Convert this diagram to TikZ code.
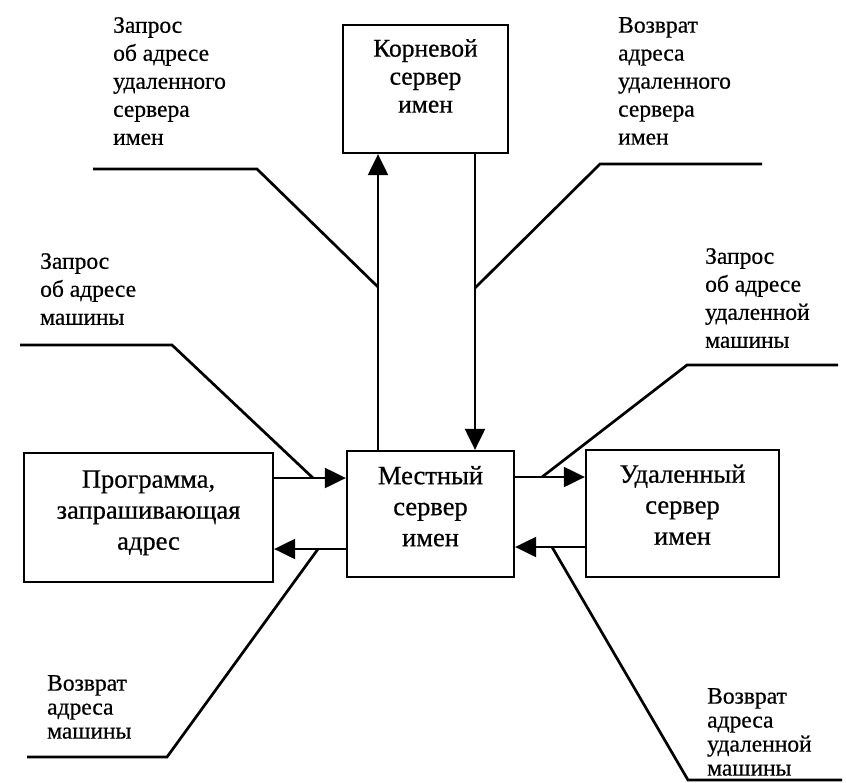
\documentclass[tikz,border=0pt]{standalone}
\usepackage{fontspec}
\setmainfont[FakeBold=0.6]{Liberation Serif}
\usetikzlibrary{arrows.meta}
\begin{document}
\begin{tikzpicture}[x=1pt,y=-1pt,
  box/.style={draw, line width=2.3pt, inner sep=0pt, align=center},
  bigtext/.style={font=\fontsize{26.5}{31}\selectfont},
  arr/.style={line width=2.2pt, -{Triangle[length=21pt,width=20pt]}},
  lead/.style={line width=2.7pt},
  lbl/.style={anchor=north west, inner sep=0pt, align=left, font=\fontsize{23.5}{28}\selectfont},
  lblb/.style={lbl, font=\fontsize{23.5}{24}\selectfont}]
\useasboundingbox (0,0) rectangle (846,782);

% boxes
\node[box, font=\fontsize{25.5}{28}\selectfont, minimum width=165pt, minimum height=128pt] (root) at (425.5,89)
  {\begin{tabular}{@{}c@{}}Корневой\\сервер\\имен\\[20pt]\end{tabular}};
\node[box, bigtext, minimum width=167pt, minimum height=126pt] (local) at (430.5,514)
  {\begin{tabular}{@{}c@{}}Местный\\сервер\\имен\\[10pt]\end{tabular}};
\node[box, bigtext, minimum width=249pt, minimum height=129pt] (prog) at (148.5,517.5)
  {\begin{tabular}{@{}c@{}}Программа,\\запрашивающая\\адрес\\[10pt]\end{tabular}};
\node[box, bigtext, minimum width=193pt, minimum height=127pt] (remote) at (682.5,513.5)
  {\begin{tabular}{@{}c@{}}Удаленный\\сервер\\имен\\[12pt]\end{tabular}};

% arrow positions
\coordinate (xu) at (378,0);
\coordinate (xd) at (475,0);
\coordinate (ya) at (0,478);
\coordinate (yb) at (0,549);
\coordinate (yc) at (0,477);
\coordinate (yd) at (0,547);

\draw[arr] (local.north -| xu) -- (root.south -| xu);
\draw[arr] (root.south -| xd) -- (local.north -| xd);
\draw[arr] (prog.east |- ya) -- (local.west |- ya);
\draw[arr] (local.west |- yb) -- (prog.east |- yb);
\draw[arr] (local.east |- yc) -- (remote.west |- yc);
\draw[arr] (remote.west |- yd) -- (local.east |- yd);

% leader lines
\coordinate (a1) at (93,169);  \coordinate (b1) at (257,169); \coordinate (j1) at (378,287);
\coordinate (a2) at (762,164); \coordinate (b2) at (600,164); \coordinate (j2) at (475,288);
\coordinate (a3) at (20,345);  \coordinate (b3) at (172,345); \coordinate (j3) at (313,478);
\coordinate (a4) at (838,365); \coordinate (b4) at (687,365); \coordinate (j4) at (542,477);
\coordinate (a5) at (27,757);  \coordinate (b5) at (167,757); \coordinate (j5) at (318,549);
\coordinate (a6) at (842,780); \coordinate (b6) at (688,780); \coordinate (j6) at (552,547);

\draw[lead] (a1) -- (b1) -- (j1);
\draw[lead] (a2) -- (b2) -- (j2);
\draw[lead] (a3) -- (b3) -- (j3);
\draw[lead] (a4) -- (b4) -- (j4);
\draw[lead] (a5) -- (b5) -- (j5);
\draw[lead] (a6) -- (b6) -- (j6);

% labels
\node[lbl] (t1) at (113,17) {Запрос\\об адресе\\удаленного\\сервера\\имен};
\node[lbl] (t2) at (618,17) {Возврат\\адреса\\удаленного\\сервера\\имен};
\node[lbl] (t3) at (40,253) {Запрос\\об адресе\\машины};
\node[lbl] (t4) at (705,248) {Запрос\\об адресе\\удаленной\\машины};
\node[lblb] (t5) at (47,675) {Возврат\\адреса\\машины};
\node[lblb] (t6) at (707,688) {Возврат\\адреса\\удаленной\\машины};
\end{tikzpicture}
\end{document}
